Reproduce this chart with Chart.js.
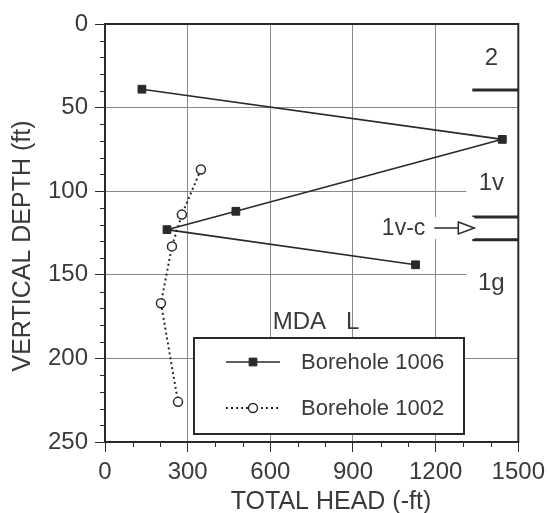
<!DOCTYPE html>
<html lang="en">
<head>
<meta charset="UTF-8">
<title>MDA L total head</title>
<script src="https://cdn.jsdelivr.net/npm/chart.js@4.4.0/dist/chart.umd.min.js"></script>
<style>
  html, body { margin: 0; padding: 0; background: #fff; }
</style>
</head>
<body>
<canvas id="myChart" width="551" height="513"></canvas>
<script>
// values
const head1006 = [134, 1442, 475, 225, 1127];
const depth1006 = [39, 69, 112, 123, 144];
const head1002 = [348, 279, 243, 203, 265];
const depth1002 = [87, 114, 133, 167, 226];

const xTicks = [0, 300, 600, 900, 1200, 1500];
const yTicks = [0, 50, 100, 150, 200, 250];

// hydrostratigraphic units on the right edge
const unitLabels = ['2', '1v', '1g'];
const unitLabelDepths = [20, 94.5, 154.5];
const unitBounds = [39.5, 115.4, 129];
const arrowLabel = '1v-c';
const arrowDepth = 122;

const ink = '#2a2a2a';
const textInk = '#3a3a3a';
const gridInk = '#888';
const family = '"Liberation Sans", Arial, Helvetica, sans-serif';

const annotate = {
    id: 'annotate',
    afterDraw(chart) {
        const {ctx, chartArea: a, scales: {x, y}} = chart;
        ctx.save();

        // minor ticks
        ctx.strokeStyle = ink;
        ctx.lineWidth = 1;
        ctx.beginPath();
        for (let v = 100; v < 1500; v += 100) {
            if (xTicks.includes(v)) continue;
            const px = Math.round(x.getPixelForValue(v)) + 0.5;
            ctx.moveTo(px, a.bottom);
            ctx.lineTo(px, a.bottom + 5);
        }
        for (let v = 10; v < 250; v += 10) {
            if (yTicks.includes(v)) continue;
            const py = Math.round(y.getPixelForValue(v)) + 0.5;
            ctx.moveTo(a.left - 5, py);
            ctx.lineTo(a.left, py);
        }
        ctx.stroke();

        // axis titles
        ctx.fillStyle = textInk;
        ctx.font = '25px ' + family;
        ctx.textAlign = 'center';
        ctx.textBaseline = 'middle';
        ctx.fillText('TOTAL HEAD (-ft)', a.left + 226, a.bottom + 60);
        ctx.save();
        ctx.translate(23, a.top + 222);
        ctx.rotate(-Math.PI / 2);
        ctx.fillText('VERTICAL DEPTH (ft)', 0, 0);
        ctx.restore();

        // unit labels
        ctx.font = '24px ' + family;
        unitLabels.forEach((t, i) => {
            const py = y.getPixelForValue(unitLabelDepths[i]);
            ctx.fillStyle = '#fff';
            ctx.fillRect(a.right - 52, py - 13, 51, 26);
            ctx.fillStyle = textInk;
            ctx.fillText(t, a.right - 27, py + 1);
        });

        // unit boundaries
        ctx.strokeStyle = ink;
        ctx.lineWidth = 3;
        ctx.beginPath();
        unitBounds.forEach(d => {
            const py = y.getPixelForValue(d);
            ctx.moveTo(a.right - 46, py);
            ctx.lineTo(a.right, py);
        });
        ctx.stroke();

        // 1v-c arrow
        const ay = y.getPixelForValue(arrowDepth);
        ctx.fillStyle = '#fff';
        ctx.fillRect(a.right - 146, ay - 11, 102, 22);
        ctx.fillStyle = textInk;
        ctx.font = '23px ' + family;
        ctx.textAlign = 'right';
        ctx.fillText(arrowLabel, a.right - 93, ay + 1);
        ctx.lineWidth = 1.5;
        ctx.beginPath();
        ctx.moveTo(a.right - 84, ay);
        ctx.lineTo(a.right - 60, ay);
        ctx.stroke();
        ctx.beginPath();
        ctx.moveTo(a.right - 60, ay - 6);
        ctx.lineTo(a.right - 44, ay);
        ctx.lineTo(a.right - 60, ay + 6);
        ctx.closePath();
        ctx.fillStyle = '#fff';
        ctx.fill();
        ctx.stroke();

        // legend
        const lx = a.left + 89, ly = a.top + 314, lw = 270, lh = 96;
        ctx.fillStyle = '#fff';
        ctx.fillRect(lx, ly, lw, lh);
        ctx.strokeStyle = ink;
        ctx.lineWidth = 2;
        ctx.strokeRect(lx, ly, lw, lh);
        ctx.fillStyle = textInk;
        ctx.font = '24px ' + family;
        ctx.textAlign = 'center';
        ctx.fillText('MDA   L', lx + 122, ly - 16);
        ctx.font = '22px ' + family;
        ctx.textAlign = 'left';
        chart.data.datasets.forEach((ds, i) => {
            const ry = ly + 24 + i * 46;
            ctx.strokeStyle = ds.borderColor;
            ctx.lineWidth = ds.borderWidth;
            ctx.setLineDash(ds.borderDash || []);
            ctx.beginPath();
            ctx.moveTo(lx + 32, ry);
            ctx.lineTo(lx + 86, ry);
            ctx.stroke();
            ctx.setLineDash([]);
            ctx.lineWidth = ds.pointBorderWidth;
            ctx.strokeStyle = ds.pointBorderColor;
            ctx.fillStyle = ds.pointBackgroundColor;
            Chart.helpers.drawPoint(ctx, {pointStyle: ds.pointStyle, radius: ds.pointRadius, borderWidth: ds.pointBorderWidth, rotation: 0}, lx + 59, ry);
            ctx.fillStyle = textInk;
            ctx.fillText(ds.label, lx + 107, ry + 1);
        });

        // frame
        ctx.strokeStyle = ink;
        ctx.lineWidth = 2;
        ctx.strokeRect(a.left, a.top, a.width, a.height);
        ctx.restore();
    }
};

const toPoints = (xs, ys) => xs.map((v, i) => ({x: v, y: ys[i]}));

new Chart(document.getElementById('myChart').getContext('2d'), {
    type: 'scatter',
    data: {
        datasets: [{
            label: 'Borehole 1006',
            data: toPoints(head1006, depth1006),
            showLine: true,
            borderColor: ink,
            borderWidth: 1.6,
            pointStyle: 'rect',
            pointRadius: 5.5,
            pointBackgroundColor: ink,
            pointBorderColor: ink,
            pointBorderWidth: 1
        }, {
            label: 'Borehole 1002',
            data: toPoints(head1002, depth1002),
            showLine: true,
            borderColor: ink,
            borderWidth: 2,
            borderDash: [2, 3],
            pointStyle: 'circle',
            pointRadius: 4.5,
            pointBackgroundColor: '#fff',
            pointBorderColor: ink,
            pointBorderWidth: 1.5
        }]
    },
    options: {
        responsive: false,
        animation: false,
        layout: {padding: {top: 24, right: 32, left: 0, bottom: 0}},
        plugins: {legend: {display: false}, tooltip: {enabled: false}},
        scales: {
            x: {
                type: 'linear', min: 0, max: 1500,
                afterFit(s) { s.height = 71; },
                ticks: {
                    stepSize: 100, autoSkip: false, maxRotation: 0, padding: 6,
                    color: textInk, font: {family, size: 24},
                    callback: v => xTicks.includes(v) ? v : ''
                },
                grid: {
                    tickLength: 10,
                    color: c => (c.tick && xTicks.includes(c.tick.value) && c.tick.value > 0 && c.tick.value < 1500) ? gridInk : 'rgba(0,0,0,0)',
                    tickColor: c => (c.tick && xTicks.includes(c.tick.value)) ? ink : 'rgba(0,0,0,0)'
                },
                border: {display: false},
                title: {display: false}
            },
            y: {
                type: 'linear', min: 0, max: 250, reverse: true,
                afterFit(s) { s.width = 105; },
                ticks: {
                    stepSize: 10, autoSkip: false, padding: 7,
                    color: textInk, font: {family, size: 24},
                    callback: v => yTicks.includes(v) ? v : ''
                },
                grid: {
                    tickLength: 10,
                    color: c => (c.tick && yTicks.includes(c.tick.value) && c.tick.value > 0 && c.tick.value < 250) ? gridInk : 'rgba(0,0,0,0)',
                    tickColor: c => (c.tick && yTicks.includes(c.tick.value)) ? ink : 'rgba(0,0,0,0)'
                },
                border: {display: false},
                title: {display: false}
            }
        }
    },
    plugins: [annotate]
});
</script>
</body>
</html>
